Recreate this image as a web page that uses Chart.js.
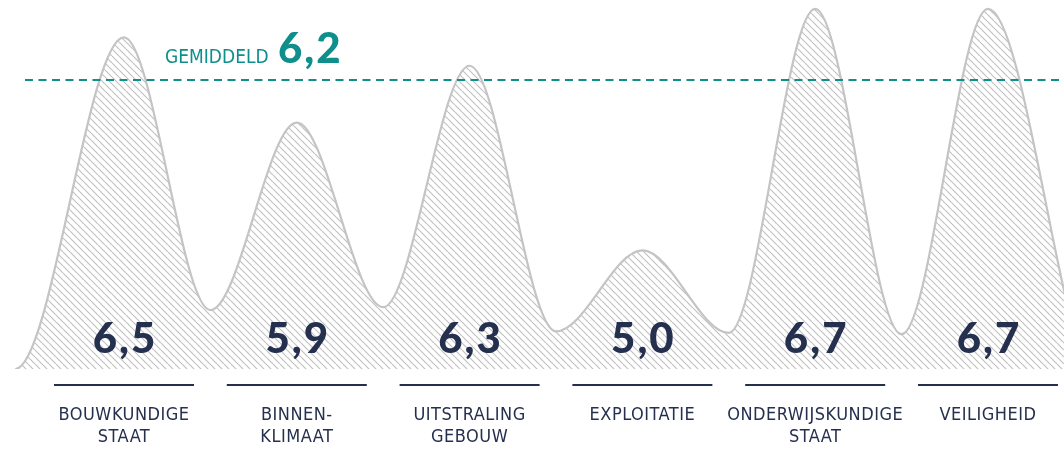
<!DOCTYPE html>
<html>
<head>
<meta charset="utf-8">
<script src="https://cdn.jsdelivr.net/npm/chart.js@4"></script>
<style>
  html, body { margin: 0; padding: 0; background: #fff; }
  #wrap { width: 1064px; height: 450px; position: relative; }
</style>
</head>
<body>
<div id="wrap"><canvas id="chart"></canvas></div>
<script>
const categories = [
  ["BOUWKUNDIGE", "STAAT"],
  ["BINNEN-", "KLIMAAT"],
  ["UITSTRALING", "GEBOUW"],
  ["EXPLOITATIE"],
  ["ONDERWIJSKUNDIGE", "STAAT"],
  ["VEILIGHEID"]
]
const scores   = [6.5, 5.9, 6.3, 5.0, 6.7, 6.7]
// dips between the peaks, the last one lies just past the right edge
const valleys  = [4.58, 4.60, 4.43, 4.42, 4.41, 4.41]
const average  = 6.2
const baseline = 4.165
const curveStartX = [-0.72, -0.63]

const navy  = "#25304f"
const teal  = "#0e8f8c"
const grey  = "#c4c4c4"

const fmt = v => v.toFixed(1).replace(".", ",")

// diagonal hatch pattern
function hatch() {
  const s = 7
  const c = document.createElement("canvas")
  c.width = s; c.height = s
  const g = c.getContext("2d")
  g.strokeStyle = "#c2c2c2"
  g.lineWidth = 1.2
  for (let k = -1; k <= 1; k++) {
    g.beginPath()
    g.moveTo(k * s, 0)
    g.lineTo(k * s + s, s)
    g.stroke()
  }
  return g.createPattern(c, "repeat")
}

const curve = curveStartX.map(x => ({ x, y: baseline }))
scores.forEach((v, i) => {
  curve.push({ x: i, y: v })
  curve.push({ x: i + 0.5, y: valleys[i] })
})

const labelsPlugin = {
  id: "labels",
  afterDatasetsDraw(chart) {
    const { ctx, scales: { x }, chartArea } = chart
    ctx.save()
    ctx.textAlign = "center"
    ctx.textBaseline = "alphabetic"

    scores.forEach((v, i) => {
      const cx = x.getPixelForValue(i)
      ctx.fillStyle = navy
      ctx.font = "900 42px Lato"
      ctx.letterSpacing = "2px"
      ctx.fillText(fmt(v), cx + 1, chartArea.bottom - 16)
      ctx.letterSpacing = "0.5px"

      ctx.strokeStyle = navy
      ctx.lineWidth = 2
      ctx.beginPath()
      ctx.moveTo(cx - 70, chartArea.bottom + 16)
      ctx.lineTo(cx + 70, chartArea.bottom + 16)
      ctx.stroke()

      ctx.font = '18px "Liberation Sans Narrow", "DejaVu Sans Condensed", sans-serif'
      categories[i].forEach((line, j) => {
        ctx.fillText(line, cx, chartArea.bottom + 51 + j * 22)
      })
    })

    // average label
    ctx.textAlign = "left"
    ctx.fillStyle = teal
    ctx.letterSpacing = "0px"
    ctx.font = '19px "Liberation Sans Narrow", "DejaVu Sans Condensed", sans-serif'
    ctx.fillText("GEMIDDELD", 165, 63)
    ctx.letterSpacing = "2px"
    ctx.font = "900 42px Lato"
    ctx.fillText(fmt(average), 278, 63)
    ctx.restore()
  }
}

new Chart(document.getElementById("chart"), {
  type: "line",
  data: {
    datasets: [
      {
        data: curve,
        borderColor: grey,
        borderWidth: 2.2,
        backgroundColor: hatch(),
        fill: "start",
        cubicInterpolationMode: "monotone",
        pointRadius: 0,
        segment: {
          borderColor: ctx => ctx.p0DataIndex === 0 ? "rgba(0,0,0,0)" : grey
        },
        order: 2
      },
      {
        data: [{ x: -0.573, y: average }, { x: 5.44, y: average }],
        borderColor: teal,
        borderWidth: 2,
        borderDash: [8, 5.5],
        pointRadius: 0,
        fill: false,
        order: 1
      }
    ]
  },
  options: {
    responsive: true,
    maintainAspectRatio: false,
    animation: false,
    layout: { padding: { top: 0, bottom: 81, left: 0, right: 0 } },
    plugins: { legend: { display: false }, tooltip: { enabled: false } },
    scales: {
      x: { type: "linear", display: false, min: -0.7176, max: 5.44 },
      y: { display: false, min: 4.165, max: 6.763 }
    }
  },
  plugins: [labelsPlugin]
})
</script>
</body>
</html>
